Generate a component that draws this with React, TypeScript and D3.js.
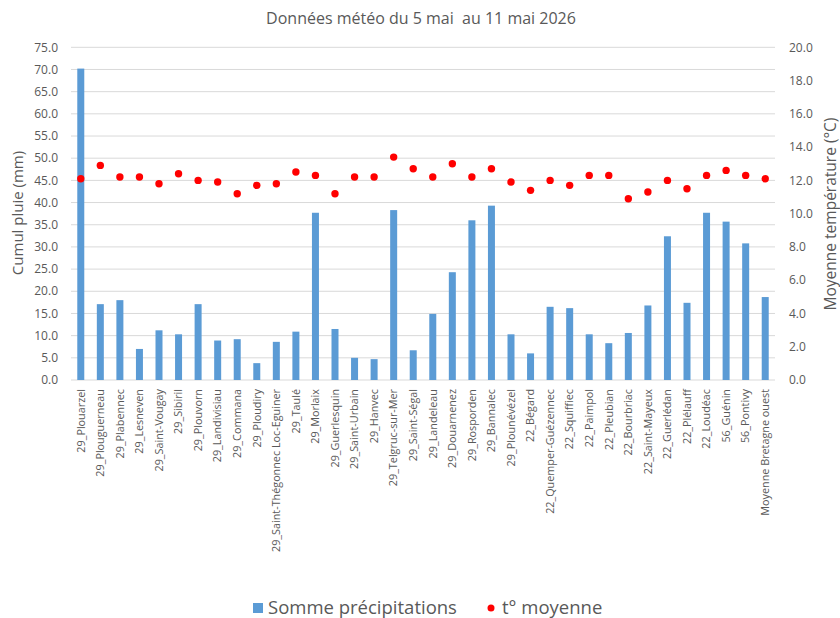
import React from "react";
import * as d3 from "d3";

const stations: string[] = [
  "29_Plouarzel", "29_Plouguerneau", "29_Plabennec", "29_Lesneven", "29_Saint-Vougay",
  "29_Sibiril", "29_Plouvorn", "29_Landivisiau", "29_Commana", "29_Ploudiry",
  "29_Saint-Thégonnec Loc-Eguiner", "29_Taulé", "29_Morlaix", "29_Guerlesquin",
  "29_Saint-Urbain", "29_Hanvec", "29_Telgruc-sur-Mer", "29_Saint-Ségal", "29_Landeleau",
  "29_Douarnenez", "29_Rosporden", "29_Bannalec", "29_Plounévézel", "22_Bégard",
  "22_Quemper-Guézennec", "22_Squiffiec", "22_Paimpol", "22_Pleubian", "22_Bourbriac",
  "22_Saint-Mayeux", "22_Guerlédan", "22_Plélauff", "22_Loudéac", "56_Guénin",
  "56_Pontivy", "Moyenne Bretagne ouest",
];

const rain: number[] = [
  70.2, 17.1, 18.0, 7.0, 11.2, 10.3, 17.1, 8.9, 9.2, 3.8,
  8.6, 10.9, 37.7, 11.5, 5.0, 4.7, 38.3, 6.7, 14.9, 24.3,
  36.0, 39.3, 10.3, 6.0, 16.5, 16.2, 10.3, 8.3, 10.6, 16.8,
  32.4, 17.4, 37.7, 35.7, 30.8, 18.7,
];

const temp: number[] = [
  12.1, 12.9, 12.2, 12.2, 11.8, 12.4, 12.0, 11.9, 11.2, 11.7,
  11.8, 12.5, 12.3, 11.2, 12.2, 12.2, 13.4, 12.7, 12.2, 13.0,
  12.2, 12.7, 11.9, 11.4, 12.0, 11.7, 12.3, 12.3, 10.9, 11.3,
  12.0, 11.5, 12.3, 12.6, 12.3, 12.1,
];

const leftTicks: number[] = [0, 5, 10, 15, 20, 25, 30, 35, 40, 45, 50, 55, 60, 65, 70, 75];
const rightTicks: number[] = [0, 2, 4, 6, 8, 10, 12, 14, 16, 18, 20];

const title = "Données météo du 5 mai  au 11 mai 2026";
const leftTitle = "Cumul pluie (mm)";
const rightTitle = "Moyenne température (°C)";
const legendRain = "Somme précipitations";
const legendTemp = "t° moyenne";

const W = 840;
const H = 618;
const M = { left: 71, right: 775, top: 47.3, bottom: 380 };
const FONT = "'Open Sans', 'Liberation Sans', sans-serif";
const TEXT = "#595959";

export default function App() {
  const x = d3.scaleBand<string>().domain(stations).range([M.left, M.right]).paddingInner(0).paddingOuter(0);
  const yL = d3.scaleLinear().domain([0, 75]).range([M.bottom, M.top]);
  const yR = d3.scaleLinear().domain([0, 20]).range([M.bottom, M.top]);
  const bw = 7;

  return (
    <svg width={W} height={H} style={{ position: "absolute", left: 0, top: 0, background: "#fff" }}
      fontFamily={FONT}>
      <rect x={0} y={0} width={W} height={H} fill="#fff" />
      <text x={421} y={24} textAnchor="middle" fontSize={16} fill={TEXT} style={{ whiteSpace: "pre" }}>{title}</text>

      {leftTicks.map((t) => (
        <line key={"g" + t} x1={M.left} x2={M.right} y1={yL(t)} y2={yL(t)} stroke="#d9d9d9" strokeWidth={1} />
      ))}
      {leftTicks.map((t) => (
        <text key={"l" + t} x={58} y={yL(t)} dy="0.35em" textAnchor="end" fontSize={12} fill={TEXT}>
          {t.toFixed(1)}
        </text>
      ))}
      {rightTicks.map((t) => (
        <text key={"r" + t} x={789} y={yR(t)} dy="0.35em" textAnchor="start" fontSize={12} fill={TEXT}>
          {t.toFixed(1)}
        </text>
      ))}

      {stations.map((s, i) => (
        <rect key={"b" + s} x={(x(s) as number) + x.bandwidth() / 2 - bw / 2} y={yL(rain[i])}
          width={bw} height={yL(0) - yL(rain[i])} fill="#5b9bd5" />
      ))}
      {stations.map((s, i) => (
        <circle key={"c" + s} cx={(x(s) as number) + x.bandwidth() / 2} cy={yR(temp[i])} r={3.7} fill="#ff0000" />
      ))}

      {stations.map((s) => {
        const cx = (x(s) as number) + x.bandwidth() / 2;
        return (
          <text key={"x" + s} transform={`translate(${cx},389) rotate(-90)`} textAnchor="end" dy="0.35em"
            fontSize={10.8} fill={TEXT}>
            {s}
          </text>
        );
      })}

      <text transform={`translate(18,213) rotate(-90)`} textAnchor="middle" dy="0.35em" fontSize={15} fill={TEXT}>
        {leftTitle}
      </text>
      <text transform={`translate(831,214) rotate(-90)`} textAnchor="middle" dy="0.35em" fontSize={15.5} fill={TEXT}>
        {rightTitle}
      </text>

      <rect x={253} y={603} width={10} height={10} fill="#5b9bd5" />
      <text x={268} y={608} dy="0.35em" fontSize={18.5} fill={TEXT}>{legendRain}</text>
      <circle cx={491} cy={608} r={3.5} fill="#ff0000" />
      <text x={502} y={608} dy="0.35em" fontSize={18.5} fill={TEXT}>{legendTemp}</text>
    </svg>
  );
}
